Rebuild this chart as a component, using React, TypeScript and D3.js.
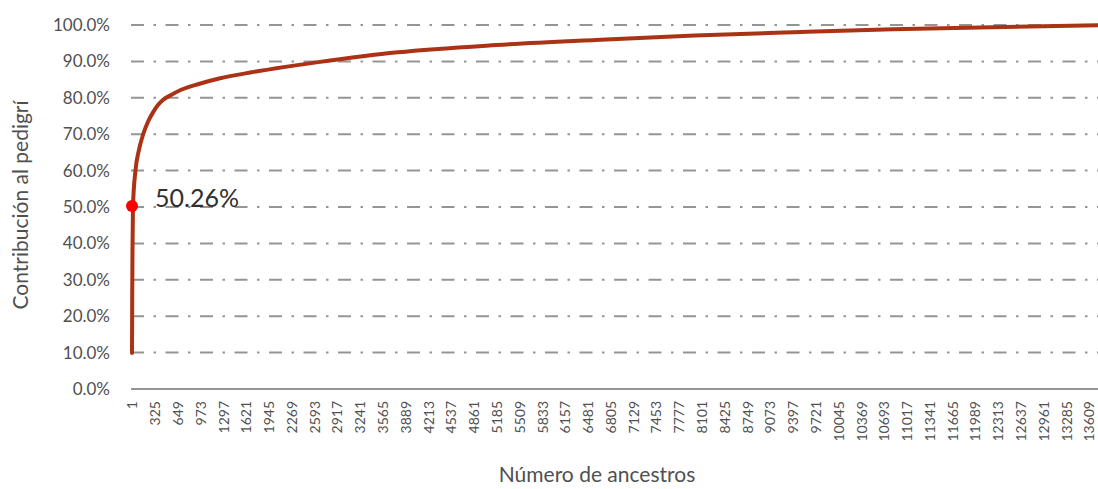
import React, { useEffect, useRef } from "react";
import * as d3 from "d3";

// etiquetas del eje X (número de ancestro, cada 324)
const tickAncestors = [
  1, 325, 649, 973, 1297, 1621, 1945, 2269, 2593, 2917, 3241, 3565, 3889, 4213, 4537,
  4861, 5185, 5509, 5833, 6157, 6481, 6805, 7129, 7453, 7777, 8101, 8425, 8749, 9073,
  9397, 9721, 10045, 10369, 10693, 11017, 11341, 11665, 11989, 12313, 12637, 12961,
  13285, 13609,
];

const yTicks = [0, 10, 20, 30, 40, 50, 60, 70, 80, 90, 100];

const curveAncestors = [
  1, 4, 8, 15, 50, 100, 160, 230, 300, 370, 440, 550, 700, 950, 1240, 1700, 2180, 2650,
  3780, 5180, 6590, 8000, 9410, 10820, 12230, 13740,
];
const curveContribution = [
  9.9, 25, 38, 50.26, 60, 65.7, 70, 73.5, 76, 78, 79.4, 80.7, 82.2, 83.8, 85.3, 87.0,
  88.5, 89.8, 92.5, 94.5, 95.9, 97.1, 98.0, 98.8, 99.4, 99.9,
];

const highlightAncestor = 15;
const highlightValue = 50.26;

const W = 1098;
const H = 489;
const FONT = "Lato, 'Open Sans', sans-serif";
const TEXT = "#505050";
const GRID = "#959595";
const LINE = "#ab3214";

export default function App() {
  const ref = useRef<SVGSVGElement>(null);

  useEffect(() => {
    const svg = d3.select(ref.current);
    svg.selectAll("*").remove();

    const left = 131;
    const right = 1098;

    const x = d3.scaleLinear().domain([1, 13609]).range([132, 1089]);
    const y = d3.scaleLinear().domain([0, 100]).range([389, 25]);

    // líneas de cuadrícula
    svg
      .append("g")
      .selectAll("line")
      .data(yTicks.filter((d) => d > 0))
      .enter()
      .append("line")
      .attr("x1", left)
      .attr("x2", right)
      .attr("y1", (d) => y(d))
      .attr("y2", (d) => y(d))
      .attr("stroke", GRID)
      .attr("stroke-width", 2)
      .attr("stroke-dasharray", "13,9.5,2.5,9.5");

    // eje X (línea base)
    svg
      .append("line")
      .attr("x1", left)
      .attr("x2", right)
      .attr("y1", y(0))
      .attr("y2", y(0))
      .attr("stroke", GRID)
      .attr("stroke-width", 2);

    // eje Y
    const yAxis = svg
      .append("g")
      .attr("transform", `translate(${left},0)`)
      .call(
        d3
          .axisLeft(y)
          .tickValues(yTicks)
          .tickSize(0)
          .tickPadding(21)
          .tickFormat((d) => `${(+d).toFixed(1)}%`)
      );
    yAxis.select(".domain").remove();
    yAxis
      .selectAll("text")
      .attr("fill", TEXT)
      .style("font-family", FONT)
      .style("font-size", "17px");

    // eje X
    const xAxis = svg
      .append("g")
      .attr("transform", `translate(0,${y(0)})`)
      .call(
        d3
          .axisBottom(x)
          .tickValues(tickAncestors)
          .tickSize(0)
          .tickFormat((d) => String(d))
      );
    xAxis.select(".domain").remove();
    xAxis
      .selectAll("text")
      .attr("fill", TEXT)
      .attr("y", 0)
      .attr("x", -12)
      .attr("dy", "0.35em")
      .attr("transform", "rotate(-90)")
      .style("text-anchor", "end")
      .style("font-family", FONT)
      .style("font-size", "14px");

    // curva
    const pts = curveAncestors.map((n, i) => [n, curveContribution[i]] as [number, number]);
    const line = d3
      .line<[number, number]>()
      .x((d) => x(d[0]))
      .y((d) => y(d[1]))
      .curve(d3.curveMonotoneX);
    svg
      .append("path")
      .attr("d", line(pts))
      .attr("fill", "none")
      .attr("stroke", LINE)
      .attr("stroke-width", 4)
      .attr("stroke-linecap", "round");

    // punto destacado
    const hx = x(highlightAncestor) - 1;
    const hy = y(highlightValue);
    svg
      .append("circle")
      .attr("cx", hx)
      .attr("cy", hy)
      .attr("r", 6)
      .attr("fill", "#ff0000");
    svg
      .append("text")
      .attr("x", hx + 23)
      .attr("y", hy + 1)
      .attr("fill", "#303030")
      .style("font-family", FONT)
      .style("font-size", "25px")
      .text(`${highlightValue.toFixed(2)}%`);

    // títulos
    svg
      .append("text")
      .attr("transform", `translate(28,205) rotate(-90)`)
      .attr("text-anchor", "middle")
      .attr("fill", TEXT)
      .style("font-family", FONT)
      .style("font-size", "21px")
      .text("Contribución al pedigrí");
    svg
      .append("text")
      .attr("x", 597)
      .attr("y", 482)
      .attr("text-anchor", "middle")
      .attr("fill", TEXT)
      .style("font-family", FONT)
      .style("font-size", "21px")
      .text("Número de ancestros");
  }, []);

  return (
    <svg
      ref={ref}
      width={W}
      height={H}
      style={{ position: "absolute", left: 0, top: 0, background: "#fff" }}
    />
  );
}
